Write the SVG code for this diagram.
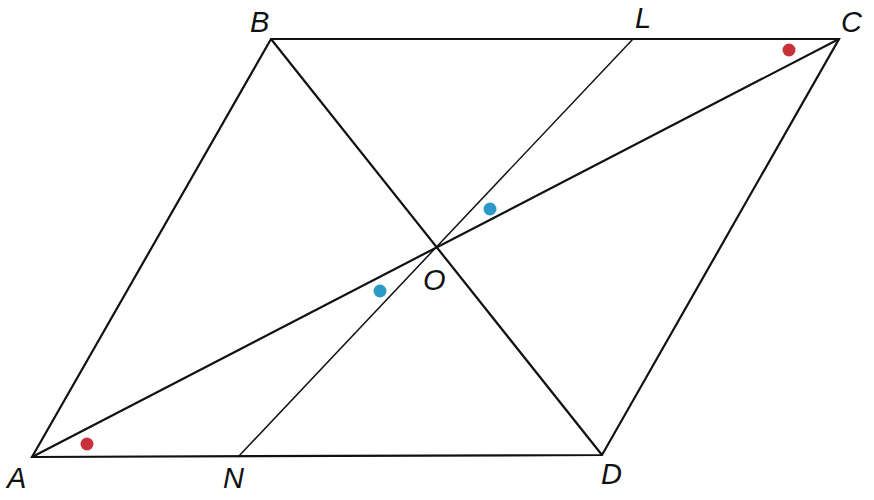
<svg xmlns="http://www.w3.org/2000/svg" width="874" height="500" viewBox="0 0 874 500">
<style>
.l{stroke:#111;stroke-width:2.2;fill:none;stroke-linejoin:miter}
.t{stroke:#111;stroke-width:1.5;fill:none}
.lab{font-family:"Liberation Sans",Arial,sans-serif;font-style:italic;font-size:29px;fill:#111}
.r{fill:#c8303a}
.b{fill:#2b9ac6}
</style>
<rect width="874" height="500" fill="#fff"/>
<g id="connectors">
<polygon class="l" points="32,457 271,39 839,39 602,455"/>
<line class="l" x1="32" y1="457" x2="839" y2="39"/>
<line class="l" x1="271" y1="39" x2="602" y2="455"/>
<line class="t" x1="633" y1="39" x2="238" y2="457"/>
</g>
<g id="marks">
<circle class="r" cx="87" cy="444" r="6.5"/>
<circle class="r" cx="789" cy="50" r="6.5"/>
<circle class="b" cx="490" cy="209" r="6.5"/>
<circle class="b" cx="380" cy="291" r="6.5"/>
</g>
<g id="A"><text class="lab" x="7" y="488">A</text></g>
<g id="B"><text class="lab" x="250" y="32">B</text></g>
<g id="C"><text class="lab" x="841" y="32">C</text></g>
<g id="D"><text class="lab" x="601" y="484">D</text></g>
<g id="L"><text class="lab" x="635" y="28">L</text></g>
<g id="N"><text class="lab" x="223" y="488">N</text></g>
<g id="O"><text class="lab" x="423" y="290">O</text></g>
</svg>
